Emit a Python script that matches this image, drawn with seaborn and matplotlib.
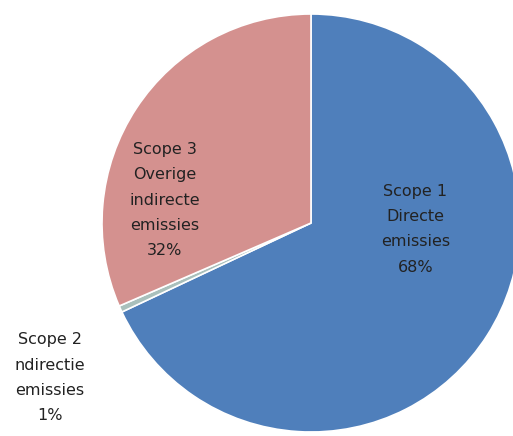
import matplotlib
matplotlib.use("Agg")
import matplotlib.pyplot as plt
import seaborn as sns

sns.set_theme(style="white")
plt.rcParams['font.family'] = ['DejaVu Sans']

categories = ["Scope 1\nDirecte\nemissies", "Scope 2\nndirectie\nemissies", "Scope 3\nOverige\nindirecte\nemissies"]
values = [68.0, 0.5, 31.5]
pct_labels = ["68%", "1%", "32%"]
colors = ["#4F7FBB", "#A9C0BC", "#D4918F"]

fig = plt.figure(figsize=(5.13, 4.36), dpi=100)
R = 209
cx, cy = 311, 436 - 223
ax = fig.add_axes([(cx - R) / 513, (cy - R) / 436, 2 * R / 513, 2 * R / 436])
wedges, _ = ax.pie(values, colors=colors, startangle=90, counterclock=False,
                   wedgeprops=dict(edgecolor="white", linewidth=1.2))
ax.set_xlim(-1, 1)
ax.set_ylim(-1, 1)
ax.set_aspect("equal")
ax.axis("off")

label_pos = [(0.50, -0.03), (-1.25, -0.74), (-0.70, 0.11)]
for cat, pct, (x, y) in zip(categories, pct_labels, label_pos):
    ax.text(x, y, cat + "\n" + pct, ha="center", va="center", fontsize=11.5,
            linespacing=1.85, color="#222222", clip_on=False)

fig.savefig("out.png", dpi=100)
